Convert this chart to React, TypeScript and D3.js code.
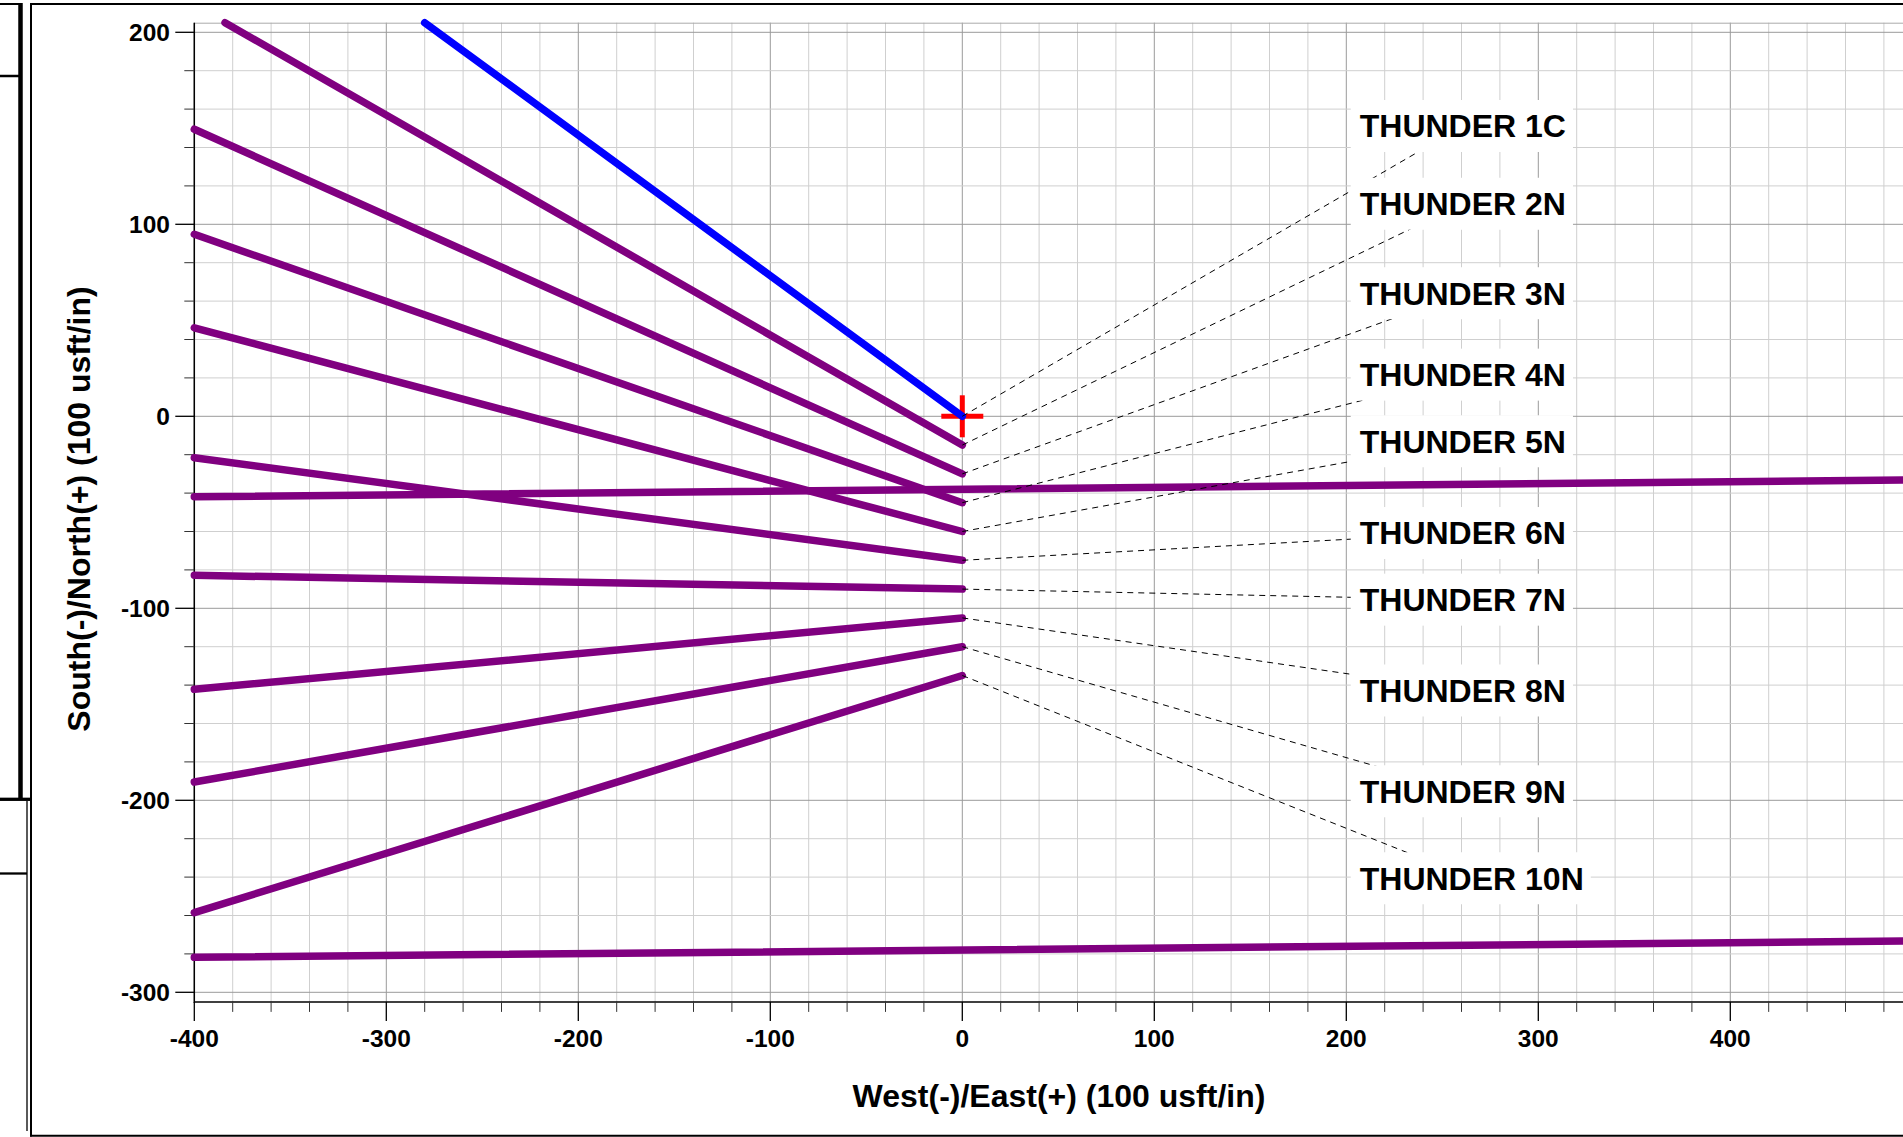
import React from 'react';
import * as d3 from 'd3';

// ---- data ----
const wellNames = ['THUNDER 1C', 'THUNDER 2N', 'THUNDER 3N', 'THUNDER 4N', 'THUNDER 5N', 'THUNDER 6N', 'THUNDER 7N', 'THUNDER 8N', 'THUNDER 9N', 'THUNDER 10N'];
const wellStartX = [-280, -384, -400, -400, -400, -400, -400, -400, -400, -400];
const wellStartY = [205, 205, 149.5, 94.8, 46.1, -21.6, -82.8, -142.2, -190.5, -258.5];
const wellEndX = [0, 0, 0, 0, 0, 0, 0, 0, 0, 0];
const wellEndY = [0, -15, -30, -45, -60, -75, -90, -105, -120, -135];
const wellColors = ['#0000ff', '#800080', '#800080', '#800080', '#800080', '#800080', '#800080', '#800080', '#800080', '#800080'];
const labelX = 207;
const labelY = [151.2, 110.7, 64.1, 21.7, -13.0, -60.8, -95.5, -142.8, -195.3, -240.6];

const offsetStartX = [-400, -400];
const offsetStartY = [-41.9, -281.8];
const offsetEndX = [490, 490];
const offsetEndY = [-33.2, -273.3];

const xTicks = [-400, -300, -200, -100, 0, 100, 200, 300, 400];
const yTicks = [-300, -200, -100, 0, 100, 200];

const FONT = "'Liberation Sans', Arial, Helvetica, sans-serif";

function measure(text: string, size: number): number {
  const c = document.createElement('canvas').getContext('2d');
  if (!c) return text.length * size * 0.62;
  c.font = `bold ${size}px 'Liberation Sans', Arial, sans-serif`;
  return c.measureText(text).width;
}

export default function App() {
  const x = d3.scaleLinear().domain([-400, 490]).range([194.3, 1903.1]);
  const y = d3.scaleLinear().domain([-305, 205]).range([1001.9, 22.7]);
  const gridX = d3.range(-400, 501, 20);
  const gridY = d3.range(-300, 201, 20);
  const line = d3.line<[number, number]>().x(d => x(d[0])).y(d => y(d[1]));
  const plotTop = y(205);
  const plotBottom = y(-305);
  const plotLeft = x(-400);
  const W = 1903, H = 1137;
  const labelSize = 32;
  const wellWidth = 7.5;

  const labels = wellNames.map((name, i) => {
    const w = measure(name, labelSize);
    const sx = x(labelX);
    const cy = y(labelY[i]);
    return { name, w, sx, cx: sx + w / 2, cy };
  });

  return (
    <div style={{ position: 'absolute', left: 0, top: 0 }}>
      <svg width={W} height={H} style={{ display: 'block', background: '#fff' }} fontFamily={FONT}>
        {/* left side panels */}
        <g stroke="#000" fill="none">
          <line x1={0} x2={21} y1={4} y2={4} strokeWidth={2} />
          <line x1={20.5} x2={20.5} y1={3} y2={799} strokeWidth={4.5} />
          <line x1={0} x2={20} y1={76} y2={76} strokeWidth={2.5} />
          <line x1={0} x2={31} y1={799.3} y2={799.3} strokeWidth={3.3} />
          <line x1={27} x2={27} y1={801} y2={1131} strokeWidth={1.3} />
          <line x1={0} x2={27} y1={873.5} y2={873.5} strokeWidth={2.3} />
          {/* outer frame */}
          <line x1={31} x2={W} y1={4} y2={4} strokeWidth={2} />
          <line x1={31} x2={31} y1={3} y2={1136.5} strokeWidth={2} />
          <line x1={30} x2={W} y1={1135.7} y2={1135.7} strokeWidth={2} />
        </g>

        {/* grid */}
        <g>
          {gridX.map(v => (
            <line key={'gx' + v} x1={x(v)} x2={x(v)} y1={plotTop} y2={plotBottom}
              stroke={v % 100 === 0 ? '#9a9a9a' : '#cfcfcf'} strokeWidth={1} />
          ))}
          {gridY.map(v => (
            <line key={'gy' + v} x1={plotLeft} x2={W} y1={y(v)} y2={y(v)}
              stroke={v % 100 === 0 ? '#9a9a9a' : '#cfcfcf'} strokeWidth={1} />
          ))}
          <line x1={plotLeft} x2={W} y1={plotTop + 0.5} y2={plotTop + 0.5} stroke="#aaa" strokeWidth={1} />
        </g>

        {/* axes */}
        <g stroke="#000">
          <line x1={plotLeft} x2={plotLeft} y1={plotTop} y2={plotBottom + 1} strokeWidth={1.5} />
          <line x1={plotLeft} x2={W} y1={plotBottom} y2={plotBottom} strokeWidth={1.5} />
          {gridY.map(v => (
            <line key={'ty' + v} x1={plotLeft - (v % 100 === 0 ? 19 : 10)} x2={plotLeft} y1={y(v)} y2={y(v)}
              strokeWidth={v % 100 === 0 ? 1.3 : 1} stroke={v % 100 === 0 ? '#000' : '#333'} />
          ))}
          {gridX.map(v => (
            <line key={'tx' + v} x1={x(v)} x2={x(v)} y1={plotBottom} y2={plotBottom + (v % 100 === 0 ? 19 : 10)}
              strokeWidth={v % 100 === 0 ? 1.3 : 1} stroke={v % 100 === 0 ? '#000' : '#333'} />
          ))}
        </g>
        <g fontWeight="bold" fontSize={24.5} fill="#000">
          {yTicks.map(v => (
            <text key={'ly' + v} x={170} y={y(v) + 8.5} textAnchor="end">{v}</text>
          ))}
          {xTicks.map(v => (
            <text key={'lx' + v} x={x(v)} y={1046.7} textAnchor="middle">{v}</text>
          ))}
        </g>

        {/* offset wells */}
        <g fill="none" stroke="#800080" strokeWidth={wellWidth} strokeLinecap="round">
          {offsetStartX.map((_, i) => (
            <path key={'ow' + i} d={line([[offsetStartX[i], offsetStartY[i]], [offsetEndX[i], offsetEndY[i]]]) || ''} />
          ))}
        </g>

        {/* wells */}
        <g fill="none" strokeWidth={wellWidth} strokeLinecap="round">
          {wellNames.map((n, i) => i === 0 ? null : (
            <path key={'w' + i} d={line([[wellStartX[i], wellStartY[i]], [wellEndX[i], wellEndY[i]]]) || ''} stroke={wellColors[i]} />
          ))}
        </g>
        {/* surface location marker */}
        <g stroke="#ff0000" strokeWidth={5}>
          <line x1={x(0) - 21} x2={x(0) + 21} y1={y(0)} y2={y(0)} />
          <line x1={x(0)} x2={x(0)} y1={y(0) - 21} y2={y(0) + 21} />
        </g>
        <path d={line([[wellStartX[0], wellStartY[0]], [wellEndX[0], wellEndY[0]]]) || ''} stroke={wellColors[0]}
          strokeWidth={wellWidth} strokeLinecap="round" fill="none" />

        {/* leaders */}
        <g stroke="#000" strokeWidth={1} strokeDasharray="6,5" fill="none">
          {labels.map((l, i) => (
            <line key={'ld' + i} x1={x(wellEndX[i])} y1={y(wellEndY[i])} x2={l.cx} y2={l.cy} />
          ))}
        </g>
        {/* label boxes and text */}
        <g>
          {labels.map((l, i) => (
            <rect key={'lb' + i} x={l.sx - 9} y={l.cy - 26} width={l.w + 16} height={52} fill="#fff" />
          ))}
        </g>
        <g fontWeight="bold" fontSize={labelSize} fill="#000">
          {labels.map((l, i) => (
            <text key={'lt' + i} x={l.sx} y={l.cy + labelSize * 0.358}>{l.name}</text>
          ))}
        </g>

        {/* axis titles */}
        <text x={1059} y={1106.7} textAnchor="middle" fontWeight="bold" fontSize={32}>West(-)/East(+) (100 usft/in)</text>
        <text transform={`translate(90,509) rotate(-90)`} textAnchor="middle" fontWeight="bold" fontSize={32}>South(-)/North(+) (100 usft/in)</text>
      </svg>
    </div>
  );
}
